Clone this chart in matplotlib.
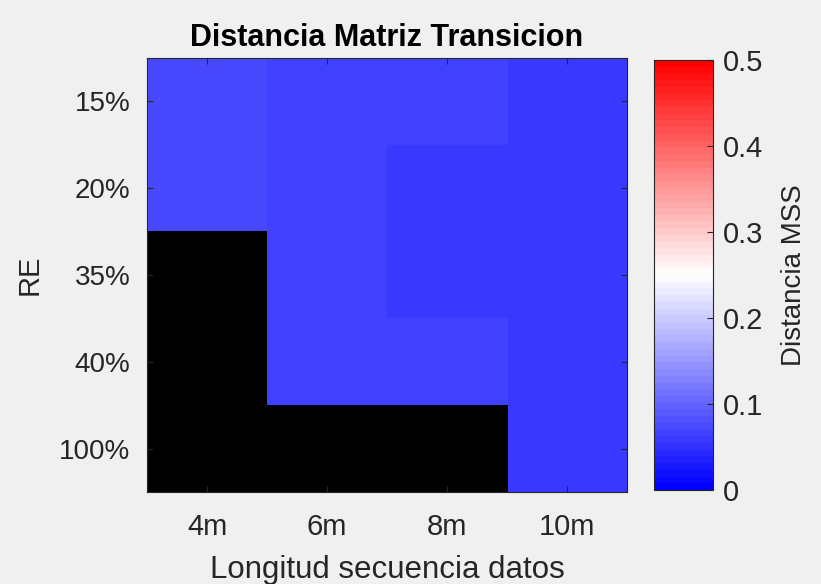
import numpy as np
import matplotlib
matplotlib.use("Agg")
import matplotlib.pyplot as plt
from matplotlib.colors import LinearSegmentedColormap

plt.rcParams['font.family'] = ['Liberation Sans', 'DejaVu Sans']

# ----- data -----
longitudes = ["4m", "6m", "8m", "10m"]
re_labels = ["15%", "20%", "35%", "40%", "100%"]

# distancia MSS por fila (RE) y columna (longitud); NaN = sin dato
fila_15 = [0.073, 0.064, 0.064, 0.059]
fila_20 = [0.073, 0.064, 0.056, 0.059]
fila_35 = [np.nan, 0.064, 0.056, 0.059]
fila_40 = [np.nan, 0.064, 0.064, 0.059]
fila_100 = [np.nan, np.nan, np.nan, 0.059]

dist = np.array([fila_15, fila_20, fila_35, fila_40, fila_100])

bg = "#f0f0f0"
txt = "#262626"

cmap = LinearSegmentedColormap.from_list("bwr64", ["blue", "white", "red"], N=64)
cmap.set_bad("black")

fig = plt.figure(figsize=(8.21, 5.84), dpi=100, facecolor=bg)
ax = fig.add_axes([147 / 821, 1 - 492 / 584, 480 / 821, 434 / 584])
cax = fig.add_axes([654 / 821, 1 - 490 / 584, 59 / 821, 430 / 584])

im = ax.imshow(np.ma.masked_invalid(dist), cmap=cmap, vmin=0, vmax=0.5,
               aspect="auto", interpolation="nearest")

ax.set_xticks(range(len(longitudes)))
ax.set_xticklabels(longitudes)
ax.set_yticks(range(len(re_labels)))
ax.set_yticklabels(re_labels)
ax.tick_params(direction="in", length=4, width=0.8, colors=txt,
               top=True, right=True)
ax.tick_params(axis="x", labelsize=21, pad=15)
ax.tick_params(axis="y", labelsize=20, pad=12)
for s in ax.spines.values():
    s.set_color(txt)
    s.set_linewidth(0.8)

ax.set_title("Distancia Matriz Transicion", fontsize=22, fontweight="bold",
             color="black", pad=9)
ax.set_xlabel("Longitud secuencia datos", fontsize=22.5, color=txt, labelpad=10)
ax.set_ylabel("RE", fontsize=21, color=txt, labelpad=11)

cb = fig.colorbar(im, cax=cax)
cb.set_ticks([0, 0.1, 0.2, 0.3, 0.4, 0.5])
cb.ax.set_yticklabels(["0", "0.1", "0.2", "0.3", "0.4", "0.5"])
cb.ax.tick_params(direction="in", length=4, width=0.8, colors=txt,
                  labelsize=21, pad=7)
cb.outline.set_edgecolor(txt)
cb.outline.set_linewidth(0.8)
cb.set_label("Distancia MSS", fontsize=20, color=txt, labelpad=13)

fig.savefig("out.png", dpi=100, facecolor=bg)
